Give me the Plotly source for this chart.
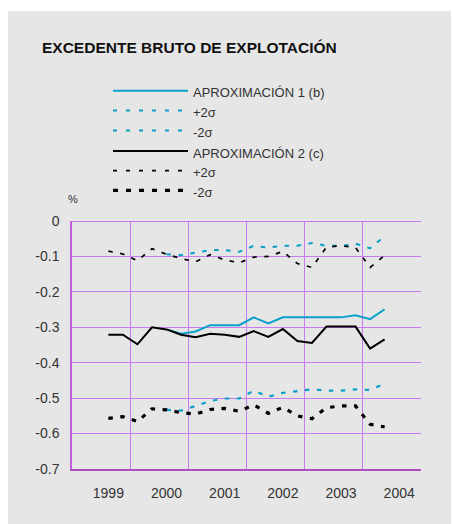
import plotly.graph_objects as go

# Quarterly observations, expressed as decimal years (1999 Q1 .. 2003 Q4)
quarters_all = [1999 + i / 4 for i in range(20)]
quarters_a1 = quarters_all[4:]          # Aproximación 1 starts in 2000 Q1

# Aproximación 2 (c): central estimate and ±2σ bands
aprox2 = [-0.321, -0.321, -0.348, -0.300, -0.306, -0.321, -0.328, -0.318, -0.321, -0.327,
          -0.311, -0.327, -0.305, -0.339, -0.344, -0.298, -0.298, -0.298, -0.360, -0.334]
aprox2_up = [-0.085, -0.093, -0.112, -0.078, -0.094, -0.106, -0.115, -0.095, -0.110, -0.118,
             -0.102, -0.100, -0.086, -0.120, -0.131, -0.074, -0.070, -0.075, -0.131, -0.097]
aprox2_lo = [-0.557, -0.552, -0.566, -0.530, -0.533, -0.541, -0.545, -0.532, -0.529, -0.537,
             -0.519, -0.543, -0.526, -0.550, -0.558, -0.527, -0.522, -0.522, -0.574, -0.581]

# Aproximación 1 (b): central estimate and ±2σ bands
aprox1 = [-0.306, -0.318, -0.312, -0.294, -0.294, -0.294, -0.272, -0.289,
          -0.272, -0.272, -0.272, -0.272, -0.272, -0.266, -0.277, -0.249]
aprox1_up = [-0.094, -0.096, -0.089, -0.082, -0.082, -0.087, -0.070, -0.075,
             -0.070, -0.070, -0.062, -0.070, -0.070, -0.064, -0.077, -0.043]
aprox1_lo = [-0.533, -0.535, -0.522, -0.508, -0.501, -0.501, -0.479, -0.496,
             -0.485, -0.479, -0.475, -0.479, -0.479, -0.475, -0.477, -0.459]

year_ticks = [1999, 2000, 2001, 2002, 2003, 2004]
year_labels = ["1999", "2000", "2001", "2002", "2003", "2004"]
y_ticks = [0, -0.1, -0.2, -0.3, -0.4, -0.5, -0.6, -0.7]
y_labels = ["0", "-0.1", "-0.2", "-0.3", "-0.4", "-0.5", "-0.6", "-0.7"]

BLUE = "#0aa0c8"
BLACK = "#000000"
GRID = "#c67cf0"
BG = "#e6e6e6"
TXT = "#333333"
FONT = "Liberation Sans, Arial, sans-serif"

W, H = 452, 524
L, R, T, B = 72, 31, 221, 55
PW, PH = W - L - R, H - T - B


def px(x):
    return (x - L) / PW


def py(y):
    return (H - B - y) / PH


# name, x, y, colour, width, dash in plot, dash in legend
series = [
    ("APROXIMACIÓN 1 (b)", quarters_a1, aprox1, BLUE, 2, "solid", "solid"),
    ("+2σ", quarters_a1, aprox1_up, BLUE, 2, "4.5px,7.5px", "4px,9px"),
    ("-2σ", quarters_a1, aprox1_lo, BLUE, 2.2, "4.5px,7.5px", "4px,9px"),
    ("APROXIMACIÓN 2 (c)", quarters_all, aprox2, BLACK, 2, "solid", "solid"),
    ("+2σ", quarters_all, aprox2_up, BLACK, 1.7, "4.5px,7.5px", "4px,9px"),
    ("-2σ", quarters_all, aprox2_lo, BLACK, 3.2, "4.5px,7.5px", "5px,8px"),
]

fig = go.Figure()
for name, xs, ys, color, width, dash, _ in series:
    fig.add_trace(go.Scatter(x=xs, y=ys, mode="lines", name=name,
                             line=dict(color=color, width=width, dash=dash),
                             showlegend=False))

shapes = [
    # grey panel behind the whole chart
    dict(type="rect", xref="paper", yref="paper", layer="below",
         x0=px(8), x1=px(451), y0=py(524), y1=py(11),
         fillcolor=BG, line=dict(width=0)),
]
annotations = [
    dict(text="EXCEDENTE BRUTO DE EXPLOTACIÓN", xref="paper", yref="paper",
         x=px(40), y=py(47.5), xanchor="left", yanchor="middle", showarrow=False,
         font=dict(family=FONT, size=15.5, color="#111111", weight="bold")),
    dict(text="%", xref="paper", yref="paper", x=px(72.5), y=py(199),
         xanchor="center", yanchor="middle", showarrow=False,
         font=dict(family=FONT, size=11, color=TXT)),
]

# hand-built legend: line sample plus label for each series
row_y = [90.7, 110.5, 130.5, 151, 170.7, 190.3]
for (name, xs, ys, color, width, dash, leg_dash), ry in zip(series, row_y):
    shapes.append(dict(type="line", xref="paper", yref="paper",
                       x0=px(113), x1=px(188), y0=py(ry), y1=py(ry),
                       line=dict(color=color, width=width, dash=leg_dash)))
    annotations.append(dict(text=name, xref="paper", yref="paper",
                            x=px(190.5), y=py(ry + 2), xanchor="left", yanchor="middle",
                            showarrow=False,
                            font=dict(family=FONT, size=13, color=TXT)))

fig.update_layout(
    width=W, height=H,
    margin=dict(l=L, r=R, t=T, b=B, pad=0),
    paper_bgcolor="white",
    plot_bgcolor=BG,
    showlegend=False,
    shapes=shapes,
    annotations=annotations,
    font=dict(family=FONT, size=14, color=TXT),
)

fig.update_xaxes(
    range=[1998.375, 2004.375],
    tickmode="array", tickvals=year_ticks, ticktext=year_labels,
    showgrid=False, zeroline=False,
    ticks="outside", ticklen=10, tickcolor="rgba(0,0,0,0)",
    tickfont=dict(family=FONT, size=14, color=TXT),
    showline=True, linecolor="#b04cc0", linewidth=1.5,
    minor=dict(tick0=1998.375, dtick=1, showgrid=True,
               gridcolor=GRID, gridwidth=1.3, ticks=""),
)
fig.update_yaxes(
    range=[-0.7, 0],
    tickmode="array", tickvals=y_ticks, ticktext=y_labels,
    showgrid=True, gridcolor=GRID, gridwidth=1.3,
    zeroline=True, zerolinecolor=GRID, zerolinewidth=1.3,
    ticks="outside", ticklen=8, tickcolor="rgba(0,0,0,0)",
    tickfont=dict(family=FONT, size=14, color=TXT),
    showline=True, linecolor="#c060d8", linewidth=1.5,
)

fig.write_html("out.html")
